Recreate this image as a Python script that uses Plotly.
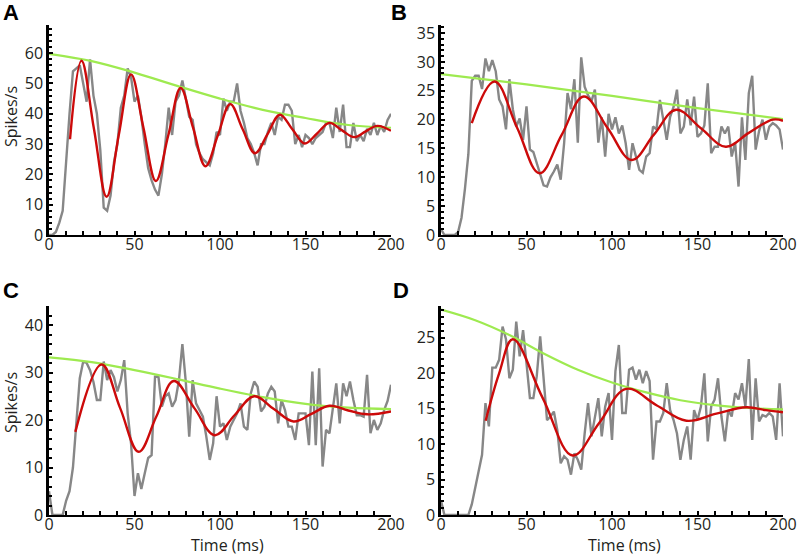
import plotly.graph_objects as go

# ---------------- data ----------------
t_bins = list(range(0, 201, 2))

gray_A = [0, 0, 1, 4, 8, 25, 40, 54, 55, 56, 50, 44, 58, 46, 40, 28, 9, 8, 13, 24,
          30, 42, 46, 55, 52, 44, 46, 39, 30, 22, 18, 15, 13, 20, 30, 42, 33, 44, 46, 51,
          45, 39, 38, 30, 27, 25, 24, 23, 27, 34, 33, 45, 41, 44, 44, 50, 41, 37, 32, 30,
          27, 23, 30, 30, 34, 37, 33, 39, 38, 43, 43, 41, 30, 33, 29, 33, 32, 30, 32, 33,
          34, 37, 37, 32, 42, 34, 43, 29, 29, 37, 31, 33, 31, 35, 33, 37, 33, 36, 34, 38,
          40]
gray_B = [1, 0, 0, 0, 0, 0.5, 3, 8, 14, 26.7, 27.6, 27.6, 25.3, 30.6, 28.4, 30.3, 28.4, 23.5, 22.3, 18.3,
          27, 21.8, 18.8, 20.2, 16.5, 22.3, 14.8, 14.4, 12.5, 10.5, 8.6, 8.4, 10, 11, 12.2, 9.6, 15.9, 24.6, 21.8, 27,
          16, 30.8, 25.7, 24.2, 23.2, 25.2, 16, 20.4, 13.6, 21, 18.3, 20.4, 17.6, 19, 15.9, 11.3, 15.9, 13.6, 11.3, 10.8,
          13.6, 14.2, 18.8, 18.3, 23.4, 20, 16.5, 20.5, 22.2, 25.2, 17.6, 18.8, 23.5, 19, 24, 17, 17.6, 19, 26.3, 14.2,
          15.3, 15.3, 18.8, 17.6, 18.8, 13.6, 16, 8.4, 20.4, 13, 24.6, 27.6, 14.8, 18, 20, 16.5, 18.8, 19.4, 19, 18.3,
          14.8]
gray_C = [5, 0, 0, 0, 0, 3, 5, 10, 20, 28.8, 32.3, 32, 30.5, 28, 24.2, 24.2, 32.3, 28.4, 30.5, 29,
          26, 28.4, 32.6, 21.4, 15, 4, 8.8, 5.5, 8.8, 12, 12.6, 29.1, 29.1, 22.8, 25, 25.6, 22.8, 24.2, 28.4, 36,
          28, 16.5, 28.4, 23.5, 22.1, 20.7, 16.5, 11.6, 15.1, 25, 18.6, 19.3, 15.8, 18.6, 20, 21.4, 23.5, 18.6, 17.9, 25.6,
          28.1, 27, 21.8, 22.8, 25.6, 27, 26, 19.3, 24.2, 22.1, 18.6, 18.6, 15.8, 21.4, 21.4, 21.4, 14.7, 30.2, 14.7, 30.9,
          10.2, 17.9, 17.2, 22.8, 27.7, 19.3, 27.7, 25, 28.1, 24.2, 21, 21, 20.7, 29.5, 17.2, 20, 17.9, 19.3, 22.1, 24,
          27.4]
gray_D = [2, 0, 0, 0, 0, 0, 0, 0, 0, 1.5, 4, 6, 8.5, 15.8, 12.5, 20.8, 20.8, 21.9, 26.6, 24.8,
          19.3, 20.5, 27.3, 22.4, 26.1, 21.4, 16.5, 16.5, 19.6, 25.2, 19.1, 13.4, 13.9, 14.6, 12, 7.3, 8.3, 7.8, 5.7, 8.7,
          7.8, 6.4, 11.5, 15.8, 11.1, 13.9, 16.5, 11.1, 15.3, 17.2, 10.6, 20.3, 24, 14.4, 14.4, 20.5, 20.8, 19.1, 20.5, 18.6,
          20.3, 18.9, 7.8, 13.2, 13.2, 14.4, 18.6, 14.8, 13.4, 11.5, 7.8, 10.6, 12.5, 7.8, 14.8, 13.4, 15.3, 20, 10.4, 15.3,
          16.3, 19.3, 13.9, 10.4, 14.8, 13.9, 17.2, 16.3, 18.6, 15.3, 22, 10.6, 19.3, 13.2, 14.1, 13.9, 14.4, 13.9, 10.6, 18.6,
          11.1]

# damped-oscillation fits (read at peaks, troughs and crossings)
red_A_t = [12.3, 19, 26.3, 33.7, 40.8, 48, 55.2, 62.5, 69.8, 77, 84.2, 91.5, 98.8, 106,
           113.2, 120.5, 127.8, 135, 142.2, 149.5, 156.8, 164, 171.2, 178.5, 185.2, 192, 200]
red_A_v = [31.6, 57.5, 35, 12.6, 33, 53, 35.5, 17.8, 33, 48.5, 35.5, 22.7, 33, 43.2,
           35, 27, 33.3, 39.7, 35, 30.2, 33.5, 37, 34.6, 32.3, 34.2, 36, 34.4]
red_B_t = [18, 31.3, 44.5, 57.6, 70.5, 83.5, 97.5, 111.5, 124.5, 137.5, 152, 166.5, 180, 194, 200]
red_B_v = [19.4, 26.6, 18.6, 10.7, 17.3, 24, 18.5, 13, 17.4, 21.7, 18.5, 15.3, 17.7, 20, 19.8]
red_C_t = [15.4, 30.8, 41.6, 52.5, 62.7, 73, 85, 97, 108.5, 120, 131.5, 143, 153.5, 164, 175, 186, 200]
red_C_v = [17.5, 31.7, 22.5, 13.3, 20.7, 28.2, 22.5, 16.8, 21, 25, 22.3, 19.7, 21.3, 23, 22, 21.2, 21.8]
red_D_t = [26.1, 34, 42, 59.5, 77, 92.5, 108.3, 126, 143.5, 161, 178.5, 190, 200]
red_D_v = [13.3, 20, 24.8, 16.5, 8.4, 13, 17.8, 15.5, 13.3, 14.3, 15.2, 14.8, 14.5]

# envelopes
green_A_t = [0, 25, 50, 75, 100, 125, 150, 175, 200]
green_A_v = [59.8, 57.4, 53.6, 49.2, 45, 41.3, 38.6, 36.3, 35.4]
green_B_t = [0, 50, 100, 150, 200]
green_B_v = [27.9, 26.1, 24.1, 22.0, 20.1]
green_C_t = [0, 25, 50, 75, 100, 125, 150, 175, 200]
green_C_v = [33.2, 32.2, 30.5, 28.6, 26.6, 24.8, 23.4, 22.6, 22.3]
green_D_t = [0, 20, 40, 60, 80, 100, 120, 140, 160, 180, 200]
green_D_v = [29.0, 27.5, 25.4, 22.8, 20.5, 18.7, 17.3, 16.2, 15.5, 15.1, 14.9]

panel_labels = ["A", "B", "C", "D"]
y_title = "Spikes/s"
x_title = "Time (ms)"
y_ranges = [69.3, 36.4, 44, 29.5]
y_dticks = [10, 5, 10, 5]
y_minor = [2, 1, 2, 1]
x_ticks = [0, 50, 100, 150, 200]

# ---------------- figure ----------------
W, H = 800, 555
fig = go.Figure()

GRAY = "#878787"
RED = "#cc0a0a"
GREEN = "#9eea50"
INK = "#231f20"

panels = [
    (gray_A, red_A_t, red_A_v, green_A_t, green_A_v),
    (gray_B, red_B_t, red_B_v, green_B_t, green_B_v),
    (gray_C, red_C_t, red_C_v, green_C_t, green_C_v),
    (gray_D, red_D_t, red_D_v, green_D_t, green_D_v),
]

# pixel boxes: (x0, x1, ytop, ybottom)
boxes = [(49, 391, 25, 235), (441, 783, 25, 235), (49, 391, 306, 515), (441, 783, 306, 515)]

font_fam = "Open Sans, Lato, Arial, sans-serif"
tick_font = dict(family=font_fam, size=16, color=INK)

for i, (g, rt, rv, gt, gv) in enumerate(panels):
    sx = "" if i == 0 else str(i + 1)
    xa, ya = "x" + sx, "y" + sx
    fig.add_trace(go.Scatter(x=t_bins, y=g, mode="lines", xaxis=xa, yaxis=ya,
                             line=dict(color=GRAY, width=2.4), showlegend=False, hoverinfo="skip"))
    fig.add_trace(go.Scatter(x=gt, y=gv, mode="lines", xaxis=xa, yaxis=ya,
                             line=dict(color=GREEN, width=2.2, shape="spline", smoothing=1.0),
                             showlegend=False, hoverinfo="skip"))
    fig.add_trace(go.Scatter(x=rt, y=rv, mode="lines", xaxis=xa, yaxis=ya,
                             line=dict(color=RED, width=2.4, shape="spline", smoothing=1.1),
                             showlegend=False, hoverinfo="skip"))

    x0, x1, yt, yb = boxes[i]
    xdom = [x0 / W, x1 / W]
    ydom = [1 - yb / H, 1 - yt / H]
    fig.layout["xaxis" + sx] = dict(
        domain=xdom, range=[0, 200], anchor=ya, tickmode="array", tickvals=x_ticks,
        ticks="inside", ticklen=4, tickwidth=1.5, tickcolor="black",
        minor=dict(dtick=10, ticks="inside", ticklen=4, tickwidth=1.5, tickcolor="black"),
        showline=True, linecolor="black", linewidth=2, showgrid=False, zeroline=False,
        tickfont=tick_font, fixedrange=True, automargin=False, ticklabelstandoff=-6,
    )
    fig.layout["yaxis" + sx] = dict(
        domain=ydom, range=[0, y_ranges[i]], anchor=xa, dtick=y_dticks[i], tick0=0,
        ticks="inside", ticklen=4, tickwidth=1.5, tickcolor="black",
        minor=dict(dtick=y_minor[i], ticks="inside", ticklen=3, tickwidth=1.5, tickcolor="black"),
        showline=True, linecolor="black", linewidth=2.5, showgrid=False, zeroline=False,
        tickfont=tick_font, fixedrange=True, automargin=False,
    )

# axis titles
for (px, py) in [(11, 117), (11, 403)]:
    fig.add_annotation(text=y_title, xref="paper", yref="paper", x=px / W, y=1 - py / H,
                       xanchor="center", yanchor="middle", textangle=-90, showarrow=False,
                       font=dict(family=font_fam, size=16, color=INK))
for (px, py) in [(228, 545), (624, 545)]:
    fig.add_annotation(text=x_title, xref="paper", yref="paper", x=px / W, y=1 - py / H,
                       xanchor="center", yanchor="middle", showarrow=False,
                       font=dict(family=font_fam, size=16, color=INK))

label_pos = [(1, 12), (389, 12), (1, 290), (391, 290)]
for lab, (px, py) in zip(panel_labels, label_pos):
    fig.add_annotation(text="<b>%s</b>" % lab, xref="paper", yref="paper",
                       x=px / W, y=1 - py / H, xanchor="left", yanchor="middle",
                       showarrow=False, font=dict(family="Arial, Liberation Sans, sans-serif", size=22, color="black"))

fig.update_layout(
    width=W, height=H, margin=dict(l=0, r=0, t=0, b=0, autoexpand=False),
    paper_bgcolor="white", plot_bgcolor="white",
)

fig.write_html("out.html", config={"displayModeBar": False},
               post_script="document.body.style.margin='0';document.body.style.padding='0';"
                           "document.body.style.overflow='hidden';")
